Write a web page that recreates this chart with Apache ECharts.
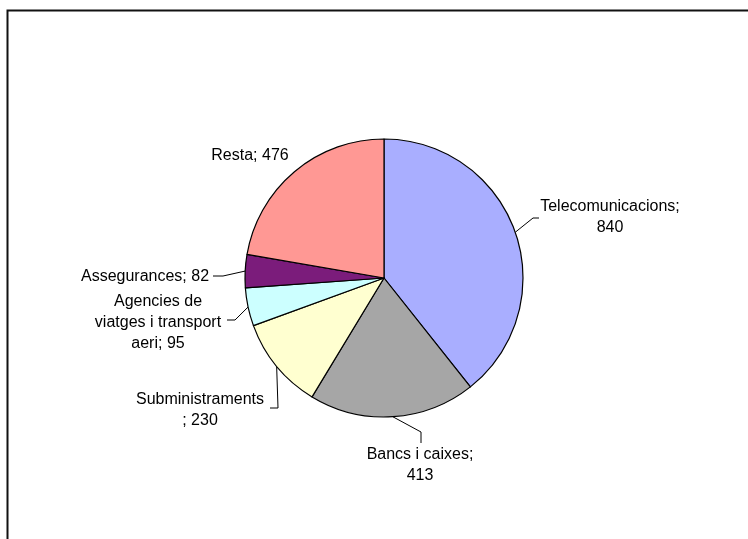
<!DOCTYPE html>
<html>
<head>
<meta charset="utf-8">
<script src="https://cdn.jsdelivr.net/npm/echarts@6/dist/echarts.min.js"></script>
<style>
  html, body { margin: 0; padding: 0; background: #fff; }
  #chart { width: 748px; height: 539px; }
</style>
</head>
<body>
<div id="chart"></div>
<script>
// Sector shares (clockwise from 12 o'clock)
const categories = ['Telecomunicacions', 'Bancs i caixes', 'Subministraments', 'Agencies de viatges i transport aeri', 'Assegurances', 'Resta'];
const values = [840, 413, 230, 95, 82, 476];
const colors = ['#A9AEFF', '#A6A6A6', '#FFFFD0', '#CCFFFF', '#7B1C7B', '#FF9894'];
// Label text with line breaks; {v} is replaced by the slice value
const labelTemplates = [
  'Telecomunicacions;\n{v}',
  'Bancs i caixes;\n{v}',
  'Subministraments\n; {v}',
  'Agencies de\nviatges i transport\naeri; {v}',
  'Assegurances; {v}',
  'Resta; {v}'
];

// Label placement: block centre and leader-line bend points
const labelSpots = [
  { x: 610, y: 217, bend: [[533, 218], [539, 218]] },
  { x: 420, y: 465, bend: [[421, 432], [421, 443]] },
  { x: 200, y: 410, bend: [[278, 408], [270, 408]] },
  { x: 158, y: 323, bend: [[235, 320], [227, 320]] },
  { x: 145, y: 277, bend: [[223, 276], [213, 276]] },
  { x: 250, y: 156, bend: null }
];

const chart = echarts.init(document.getElementById('chart'), null, { renderer: 'canvas' });

const data = categories.map((name, i) => ({
  name: name,
  value: values[i],
  itemStyle: { color: colors[i] },
  labelLine: { show: labelSpots[i].bend !== null }
}));

chart.setOption({
  backgroundColor: '#ffffff',
  animation: false,
  graphic: [{
    type: 'rect',
    shape: { x: 7.5, y: 10.5, width: 780, height: 600 },
    style: { fill: 'none', stroke: '#111', lineWidth: 2 },
    silent: true
  }],
  series: [{
    type: 'pie',
    center: [384, 278],
    radius: 139,
    startAngle: 90,
    clockwise: true,
    avoidLabelOverlap: false,
    data: data,
    itemStyle: { borderColor: '#000', borderWidth: 1.2 },
    label: {
      show: true,
      position: 'outside',
      fontFamily: 'Liberation Sans, Arial, sans-serif',
      fontSize: 16,
      lineHeight: 21,
      color: '#000',
      align: 'center',
      formatter: p => labelTemplates[p.dataIndex].replace('{v}', p.value)
    },
    labelLine: {
      show: true,
      length: 10,
      length2: 10,
      lineStyle: { color: '#000', width: 1 }
    },
    labelLayout: function (params) {
      const spot = labelSpots[params.dataIndex];
      const out = { x: spot.x, y: spot.y, align: 'center', verticalAlign: 'middle' };
      if (spot.bend && params.labelLinePoints) {
        out.labelLinePoints = [params.labelLinePoints[0]].concat(spot.bend);
      }
      return out;
    }
  }]
});
</script>
</body>
</html>
